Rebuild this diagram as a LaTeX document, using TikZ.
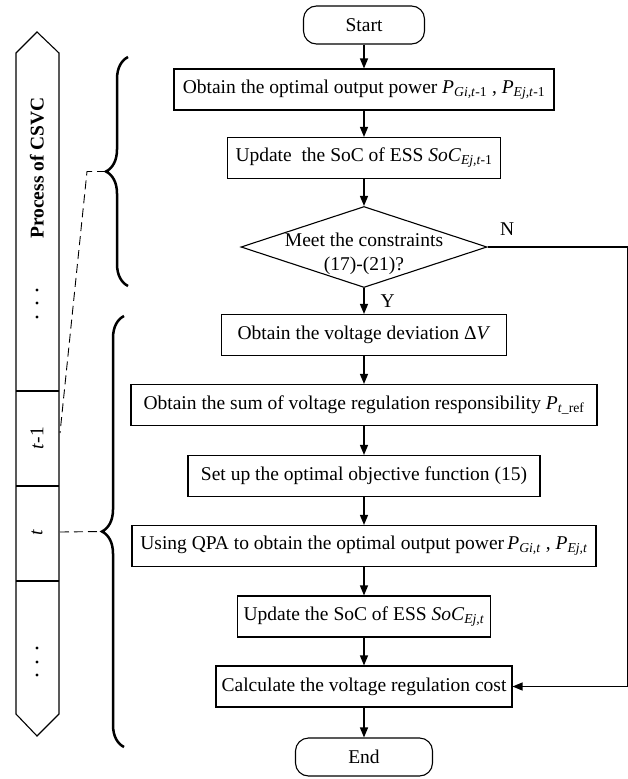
\documentclass[tikz,border=0pt]{standalone}
\usepackage{fontspec}
\setmainfont{Liberation Serif}
\usetikzlibrary{shapes.geometric, arrows.meta, decorations.pathreplacing}

\newcommand{\fs}{\fontsize{19.5}{24}\selectfont}
\newcommand{\symsub}[2]{\textit{#1}\textsubscript{#2}}

\begin{document}
\begin{tikzpicture}[x=1pt, y=-1pt,
    box/.style={draw, line width=1.1pt, font=\fs, minimum height=41pt, inner sep=2pt},
    term/.style={box, rounded corners=13pt, minimum height=38pt},
    decision/.style={draw, line width=1.1pt, diamond, minimum width=246pt, minimum height=81pt, inner sep=0pt},
    flow/.style={-{Triangle[length=10pt, width=8pt]}, line width=1.3pt},
    link/.style={dash pattern=on 9pt off 5pt, line width=0.9pt},
    period/.style={decorate, decoration={brace, amplitude=22pt}, line width=2.5pt},
    lbl/.style={font=\fs, inner sep=1pt}]
        \useasboundingbox (0,0) rectangle (628,779);

        % time bar
        \draw[line width=1.1pt] (16,53) -- (37,32) -- (59,53) -- (59,714) -- (37,736) -- (16,714) -- cycle;
        \foreach \y in {391,486,581} \draw[line width=1.1pt] (16,\y) -- (59,\y);
        \node[font=\fs\bfseries, rotate=90] (csvc) at (37,168) {Process of CSVC};
        \node[font=\fs, rotate=90] (prev) at (37,438) {\textit{t}-1};
        \node[font=\fs, rotate=90] (now) at (37,533) {\textit{t}};
        \foreach \y in {290,303,317,648,662,675} \fill (37,\y) circle (1.6pt);

        % flow chart
        \node[term, minimum width=121pt] (start) at (364,25) {Start};
        \node[box, minimum width=380pt] (opt) at (364,89.5) {Obtain the optimal output power \symsub{P}{\textit{Gi,t}-1} , \symsub{P}{\textit{Ej,t}-1}};
        \node[box, minimum width=273pt] (upd) at (364,158) {Update\ \ the SoC of ESS \symsub{SoC}{\textit{Ej,t}-1}};
        \node[decision, label={[lbl, align=center, yshift=-7pt]center:Meet the constraints\\(17)-(21)?}] (meet) at (364,247) {};
        \node[box, minimum width=285pt] (dev) at (364,335) {Obtain the voltage deviation Δ\textit{V}};
        \node[box, minimum width=466pt] (sum) at (364,405) {Obtain the sum of voltage regulation responsibility \symsub{P}{\textit{t}\_ref}};
        \node[box, minimum width=352pt] (obj) at (364,476) {Set up the optimal objective function (15)};
        \node[box, minimum width=464pt] (qpa) at (364,546) {Using QPA to obtain the optimal output power\,\symsub{P}{\textit{Gi,t}} , \symsub{P}{\textit{Ej,t}}};
        \node[box, minimum width=253pt] (updt) at (364,616.5) {Update the SoC of ESS \symsub{SoC}{\textit{Ej,t}}};
        \node[box, minimum width=296pt] (calc) at (364,686.5) {Calculate the voltage regulation cost};
        \node[term, minimum width=137pt] (end) at (364,757) {End};

        \draw[flow] (start) -- (opt);
        \draw[flow] (opt) -- (upd);
        \draw[flow] (upd) -- (meet);
        \draw[flow] (meet) -- node[lbl, right=15pt] {Y} (dev);
        \draw[flow] (dev) -- (sum);
        \draw[flow] (sum) -- (obj);
        \draw[flow] (obj) -- (qpa);
        \draw[flow] (qpa) -- (updt);
        \draw[flow] (updt) -- (calc);
        \draw[flow] (calc) -- (end);
        \draw[flow] (meet.east) -| node[lbl, pos=0.07, above=10pt] {N} ([xshift=115pt]calc.east) -- (calc.east);

        % braces
        \draw[period] (128,286) -- (128,57);
        \draw[period] (124,747) -- (124,316);
        \coordinate (tipA) at (106,171.5);
        \coordinate (tipB) at (102,531.5);
        \coordinate (cellA) at (60,433);
        \coordinate (cellB) at (60,532);
        \draw[link] (tipA) -- ++(-19,0) -- (cellA);
        \draw[link] (cellB) -- (tipB);
\end{tikzpicture}
\end{document}
